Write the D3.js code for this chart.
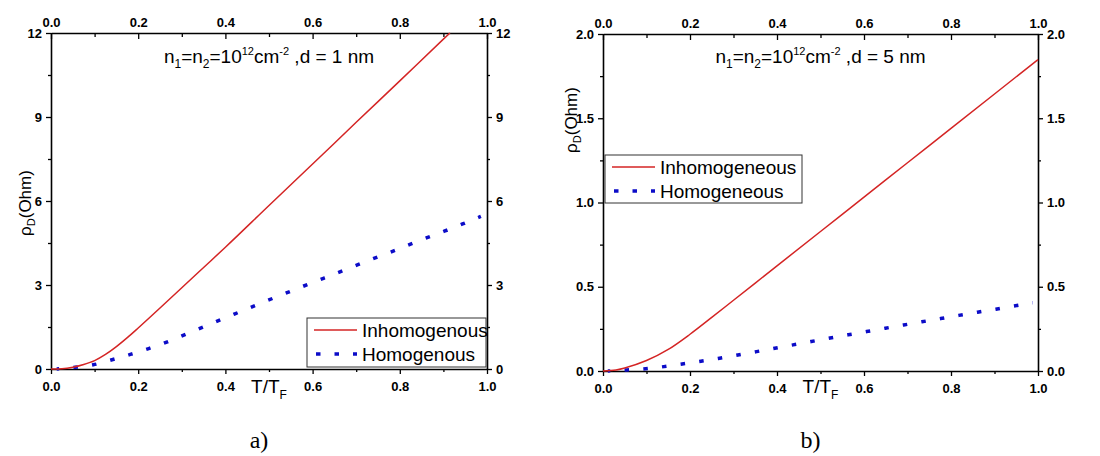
<!doctype html>
<html>
<head>
<meta charset="utf-8">
<script src="https://cdn.jsdelivr.net/npm/d3@7"></script>
<style>
  body { margin: 0; background: #fff; }
  svg { display: block; }
  .tk text { font: bold 13px "Liberation Sans", Arial, sans-serif; fill: #000; }
  .tk path, .tk line { stroke: #000; }
  .tk path { stroke-width: 1.6; }
  .tk line { stroke-width: 1.3; }
  .lbl { font-family: "Liberation Sans", Arial, sans-serif; fill: #000; }
  .cap { font-family: "Liberation Serif", "Times New Roman", serif; font-size: 24px; fill: #000; }
</style>
</head>
<body>
<svg width="1100" height="456"></svg>
<script>
// ---- data ----
// panel a) d = 1 nm
const tA_red = [0, 0.025, 0.05, 0.075, 0.1, 0.125, 0.15, 0.175, 0.2, 0.25, 0.3, 0.35, 0.4, 0.5, 0.6, 0.7, 0.8, 0.9, 0.915];
const rhoA_red = [0, 0.01, 0.06, 0.16, 0.3, 0.52, 0.8, 1.12, 1.465, 2.18, 2.9, 3.625, 4.35, 5.84, 7.32, 8.81, 10.29, 11.78, 12.0];
const tA_blue = [0.013, 0.055, 0.097, 0.140, 0.182, 0.224, 0.267, 0.309, 0.351, 0.394, 0.436, 0.478,
                 0.521, 0.563, 0.605, 0.648, 0.690, 0.732, 0.775, 0.817, 0.859, 0.902, 0.944, 0.986];
const rhoA_blue = [0, 0.06, 0.15, 0.33, 0.52, 0.73, 0.97, 1.24, 1.51, 1.79, 2.06, 2.33,
                   2.6, 2.86, 3.12, 3.38, 3.64, 3.9, 4.15, 4.41, 4.67, 4.92, 5.18, 5.45];
// panel b) d = 5 nm
const tB_red = [0, 0.03, 0.05, 0.1, 0.15, 0.2, 0.25, 0.3, 0.35, 0.4, 0.5, 0.6, 0.7, 0.8, 0.9, 1.0];
const rhoB_red = [0, 0.006, 0.018, 0.062, 0.128, 0.218, 0.318, 0.42, 0.522, 0.624, 0.828, 1.032, 1.236, 1.44, 1.644, 1.848];
const tB_blue = [0.011, 0.055, 0.098, 0.140, 0.182, 0.225, 0.268, 0.310, 0.353, 0.395, 0.437, 0.479,
                 0.522, 0.564, 0.606, 0.649, 0.691, 0.733, 0.776, 0.818, 0.861, 0.903, 0.945, 0.988];
const rhoB_blue = [0, 0.006, 0.013, 0.026, 0.042, 0.058, 0.076, 0.095, 0.115, 0.135, 0.155, 0.175,
                   0.196, 0.215, 0.234, 0.254, 0.273, 0.292, 0.311, 0.330, 0.349, 0.367, 0.386, 0.405];

const xTicks = [0, 0.2, 0.4, 0.6, 0.8, 1.0];
const xMinor = [0.1, 0.3, 0.5, 0.7, 0.9];
const yTicksA = [0, 3, 6, 9, 12];
const yMinorA = [1.5, 4.5, 7.5, 10.5];
const yTicksB = [0, 0.5, 1.0, 1.5, 2.0];
const yMinorB = [0.25, 0.75, 1.25, 1.75];

const legendA = ["Inhomogenous", "Homogenous"];
const legendB = ["Inhomogeneous", "Homogeneous"];

const RED = "#d42424", BLUE = "#0c0cc8";
const svg = d3.select("svg");

function zip(ts, vs) { return ts.map((t, i) => ({t: t, v: vs[i]})); }

function panel(o) {
  const x = d3.scaleLinear().domain([0, 1]).range([o.left, o.right]);
  const y = d3.scaleLinear().domain([0, o.ymax]).range([o.bottom, o.top]);
  const g = svg.append("g");

  // minor ticks
  g.append("g").attr("class", "tk").attr("transform", "translate(0," + o.bottom + ")")
    .call(d3.axisBottom(x).tickValues(o.xMinor).tickSize(3).tickFormat(""))
    .select(".domain").remove();
  g.append("g").attr("class", "tk").attr("transform", "translate(0," + o.top + ")")
    .call(d3.axisTop(x).tickValues(o.xMinor).tickSize(-4).tickFormat(""))
    .select(".domain").remove();
  g.append("g").attr("class", "tk").attr("transform", "translate(" + o.left + ",0)")
    .call(d3.axisLeft(y).tickValues(o.yMinor).tickSize(3).tickFormat(""))
    .select(".domain").remove();
  g.append("g").attr("class", "tk").attr("transform", "translate(" + o.right + ",0)")
    .call(d3.axisRight(y).tickValues(o.yMinor).tickSize(3).tickFormat(""))
    .select(".domain").remove();

  // major axes
  g.append("g").attr("class", "tk").attr("transform", "translate(0," + o.bottom + ")")
    .call(d3.axisBottom(x).tickValues(xTicks).tickSize(5).tickSizeOuter(0).tickPadding(8).tickFormat(d3.format(".1f")));
  g.append("g").attr("class", "tk").attr("transform", "translate(0," + o.top + ")")
    .call(d3.axisTop(x).tickValues(xTicks).tickSize(-6).tickSizeOuter(0).tickPadding(6).tickFormat(d3.format(".1f")));
  g.append("g").attr("class", "tk").attr("transform", "translate(" + o.left + ",0)")
    .call(d3.axisLeft(y).tickValues(o.yTicks).tickSize(5).tickSizeOuter(0).tickPadding(4).tickFormat(d3.format(o.yfmt)));
  g.append("g").attr("class", "tk").attr("transform", "translate(" + o.right + ",0)")
    .call(d3.axisRight(y).tickValues(o.yTicks).tickSize(5).tickSizeOuter(0).tickPadding(4).tickFormat(d3.format(o.yfmt)));

  const line = d3.line().x(d => x(d.t)).y(d => y(d.v)).curve(d3.curveMonotoneX);

  g.append("path").datum(zip(o.tBlue, o.vBlue))
    .attr("d", line).attr("fill", "none").attr("stroke", BLUE)
    .attr("stroke-width", 3.5).attr("stroke-dasharray", "4.5,14.3")
    .attr("stroke-dashoffset", 2);
  g.append("path").datum(zip(o.tRed, o.vRed))
    .attr("d", line).attr("fill", "none").attr("stroke", RED).attr("stroke-width", 1.5);

  // annotation
  const ann = g.append("text").attr("class", "lbl").attr("font-size", 19)
    .attr("x", (o.left + o.right) / 2).attr("y", 63).attr("text-anchor", "middle");
  ann.append("tspan").text("n");
  ann.append("tspan").attr("font-size", 12).attr("dy", 5).text("1");
  ann.append("tspan").attr("dy", -5).text("=n");
  ann.append("tspan").attr("font-size", 12).attr("dy", 5).text("2");
  ann.append("tspan").attr("dy", -5).text("=10");
  ann.append("tspan").attr("font-size", 11).attr("dy", -8).text("12");
  ann.append("tspan").attr("dy", 8).text("cm");
  ann.append("tspan").attr("font-size", 11).attr("dy", -8).text("-2");
  ann.append("tspan").attr("dy", 8).text(" ,d = " + o.d + " nm");

  // axis titles
  const xt = g.append("text").attr("class", "lbl").attr("font-size", 19)
    .attr("x", x(0.5)).attr("y", 393).attr("text-anchor", "middle");
  xt.append("tspan").text("T/T");
  xt.append("tspan").attr("font-size", 12).attr("dy", 6).text("F");

  const yt = g.append("text").attr("class", "lbl").attr("font-size", 17)
    .attr("transform", "translate(" + o.ytx + "," + o.yty + ") rotate(-90)").attr("text-anchor", "middle");
  yt.append("tspan").text("ρ");
  yt.append("tspan").attr("font-size", 11).attr("dy", 4).text("D");
  yt.append("tspan").attr("dy", -4).text("(Ohm)");

  // legend
  const L = o.legend;
  g.append("rect").attr("x", L.x).attr("y", L.y).attr("width", L.w).attr("height", L.h)
    .attr("fill", "#fff").attr("stroke", "#333").attr("stroke-width", 1);
  const sx0 = L.x + 7, sx1 = L.x + 50;
  g.append("line").attr("x1", sx0).attr("x2", sx1).attr("y1", L.y + 12).attr("y2", L.y + 12)
    .attr("stroke", RED).attr("stroke-width", 1.5);
  g.append("line").attr("x1", sx0 + 2).attr("x2", sx1).attr("y1", L.y + 36).attr("y2", L.y + 36)
    .attr("stroke", BLUE).attr("stroke-width", 3.5).attr("stroke-dasharray", "4.5,14");
  g.append("text").attr("class", "lbl").attr("font-size", 19).attr("x", sx1 + 5).attr("y", L.y + 19).text(o.names[0]);
  g.append("text").attr("class", "lbl").attr("font-size", 19).attr("x", sx1 + 5).attr("y", L.y + 43).text(o.names[1]);

  g.append("text").attr("class", "cap").attr("x", x(0.5) - 10).attr("y", 448)
    .attr("text-anchor", "middle").text(o.cap);
}

panel({
  left: 51, right: 487, top: 33, bottom: 369, ymax: 12, yfmt: "d",
  yTicks: yTicksA, yMinor: yMinorA, xMinor: xMinor,
  tRed: tA_red, vRed: rhoA_red, tBlue: tA_blue, vBlue: rhoA_blue,
  d: 1, names: legendA, cap: "a)", ytx: 31, yty: 203,
  legend: {x: 307, y: 318, w: 179, h: 49}
});

panel({
  left: 603, right: 1038, top: 34, bottom: 371, ymax: 2, yfmt: ".1f",
  yTicks: yTicksB, yMinor: yMinorB, xMinor: xMinor,
  tRed: tB_red, vRed: rhoB_red, tBlue: tB_blue, vBlue: rhoB_blue,
  d: 5, names: legendB, cap: "b)", ytx: 577, yty: 120,
  legend: {x: 605, y: 155, w: 197, h: 48}
});
</script>
</body>
</html>
